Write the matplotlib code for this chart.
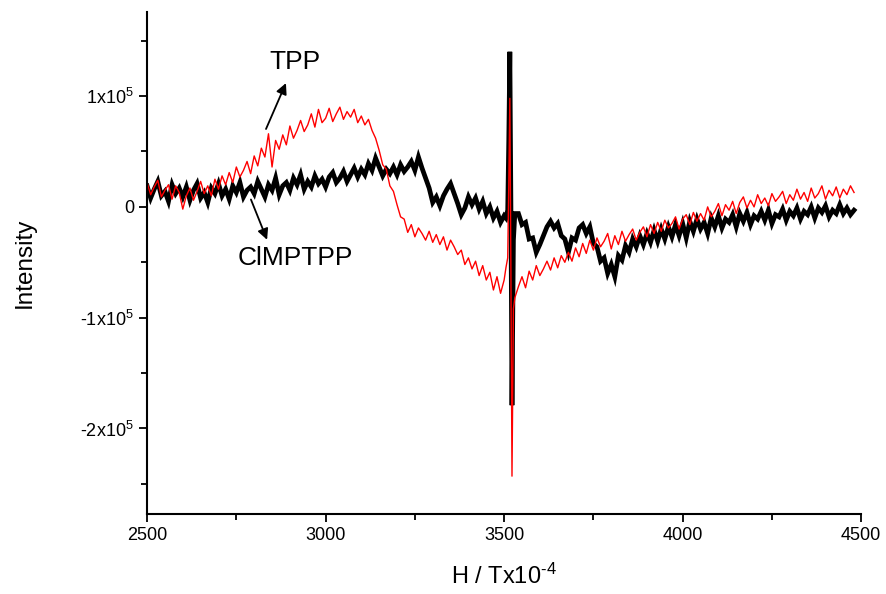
import numpy as np
import matplotlib
matplotlib.use("Agg")
import matplotlib.pyplot as plt
from matplotlib.ticker import MultipleLocator

plt.rcParams['font.family'] = ['Liberation Sans', 'DejaVu Sans']
plt.rcParams['mathtext.fontset'] = 'custom'
plt.rcParams['mathtext.rm'] = 'Liberation Sans'
plt.rcParams['mathtext.default'] = 'regular'

# magnetic field (G), sampled every 10 with extra points across the sharp line
field_a = np.arange(2500, 3501, 10)
field_spike = [3505, 3510, 3513, 3516, 3519, 3522, 3526, 3530]
field_b = np.arange(3540, 4481, 10)

# intensities, in units of 1e4
tpp_a = [2.2, 1.1, 1.8, 2.4, 0.9, 1.5, 2.0, 0.7, 1.9, 1.3,
         -0.2, 1.0, 1.7, 0.6, 1.4, 2.3, 1.2, 1.9, 1.0, 2.5,
         1.6, 2.8, 2.0, 3.1, 2.2, 3.6, 2.7, 3.3, 4.1, 3.0,
         4.6, 3.7, 5.3, 4.5, 6.6, 3.6, 6.0, 5.2, 6.5, 5.6,
         7.3, 6.2, 6.9, 7.8, 6.8, 7.4, 8.4, 7.2, 8.8, 7.6,
         8.0, 8.9, 7.7, 8.4, 9.0, 7.9, 8.6, 8.1, 8.8, 7.6,
         8.2, 7.4, 7.9, 6.9, 6.2, 5.1, 3.8, 3.4, 1.9, 1.4,
         0.2, -0.9, -1.1, -2.3, -1.6, -2.7, -1.9, -2.4, -3.0, -2.2,
         -3.2, -2.5, -3.4, -2.7, -3.9, -3.0, -3.6, -4.3, -3.9, -5.2,
         -4.6, -5.6, -4.9, -6.2, -5.3, -6.6, -5.9, -7.5, -6.3, -7.8,
         -6.6]
tpp_spike = [-5.5, -4.6, 2.0, 9.8, -6.0, -24.3, -9.2, -8.2]
tpp_b = [-7.2, -6.3, -7.3, -5.8, -6.6, -5.3, -6.2, -5.6, -4.9, -5.7,
         -4.6, -5.5, -4.4, -5.0, -4.1, -4.9, -3.7, -4.5, -3.3, -4.2,
         -3.0, -3.9, -2.8, -3.6, -3.1, -2.4, -3.8, -2.6, -3.4, -2.2,
         -3.1, -2.5, -2.0, -3.0, -2.3, -1.8, -2.7, -1.6, -2.4, -1.4,
         -2.2, -1.2, -1.9, -1.5, -0.9, -2.0, -1.1, -0.7, -1.6, -0.5,
         -1.3, -0.6, -1.2, 0.0, -0.9, -0.4, 0.3, -0.8, 0.2, -0.3,
         0.5, -0.6, 0.4, 0.9, -0.1, 0.6, 0.0, 1.1, 0.3, 0.8,
         0.1, 1.2, 0.5, 0.9, 1.4, 0.3, 1.1, 0.6, 1.6, 0.7,
         1.3, 0.5, 1.7, 0.8, 1.2, 1.9, 0.7, 1.5, 1.0, 1.8,
         0.8, 1.6, 1.1, 1.9, 1.3]

clmptpp_a = [1.9, 0.8, 1.6, 2.3, 1.0, 1.4, 0.5, 2.0, 1.2, 1.7,
             0.9, 1.8, 0.6, 1.5, 2.1, 0.8, 1.3, 0.4, 1.7, 1.2,
             2.1, 1.0, 1.6, 0.7, 1.9, 1.3, 2.2, 0.9, 1.5, 1.8,
             1.2, 2.3, 1.6, 0.9, 2.0, 1.5, 2.6, 1.1, 1.9, 2.2,
             1.5, 2.6, 2.0, 2.9, 1.6, 2.3, 1.8, 2.8, 2.1, 2.5,
             1.8, 2.7, 3.1, 2.2, 2.6, 3.2, 2.3, 2.9, 3.5, 2.7,
             3.4, 2.9, 3.9, 3.3, 4.4, 3.6, 2.8, 3.4, 3.0, 3.6,
             2.9, 3.8, 3.2, 3.6, 4.1, 3.3, 4.5, 3.5, 2.6, 1.7,
             0.4, 0.9, 0.1, 1.0, 1.6, 2.1, 1.2, 0.3, -0.7, -0.1,
             0.9, 0.2, 0.8, -0.2, 0.5, -0.6, 0.0, -1.0, -0.4, -1.4,
             -0.8]
clmptpp_spike = [-1.0, -0.3, 6.0, 14.0, 0.0, -17.9, -3.0, -0.6]
clmptpp_b = [-0.6, -1.6, -1.4, -2.9, -2.8, -4.1, -3.4, -2.6, -1.8, -1.3,
             -1.9, -1.5, -2.6, -2.9, -4.1, -2.8, -3.0, -1.9, -1.6, -2.4,
             -1.8, -3.3, -3.6, -4.9, -4.6, -6.0, -5.2, -6.3, -4.4, -4.8,
             -3.5, -4.1, -2.9, -3.6, -2.6, -3.4, -2.4, -3.2, -2.1, -3.1,
             -2.0, -2.9, -1.8, -2.7, -1.6, -2.6, -1.5, -2.8, -1.3, -2.2,
             -1.1, -2.0, -1.4, -2.4, -1.0, -1.8, -0.8, -1.9, -1.1, -1.4,
             -0.7, -1.8, -0.6, -1.3, -0.5, -1.6, -0.8, -1.1, -0.4, -1.2,
             -0.3, -1.5, -0.7, -0.9, -0.2, -1.2, -0.4, -0.8, -0.1, -1.1,
             -0.4, -0.7, 0.0, -1.0, -0.1, -0.5, 0.1, -0.9, -0.3, -0.6,
             0.2, -0.6, -0.1, -0.7, -0.3]

field = np.concatenate([field_a, field_spike, field_b])
tpp = np.concatenate([tpp_a, tpp_spike, tpp_b]) * 1e4
clmptpp = np.concatenate([clmptpp_a, clmptpp_spike, clmptpp_b]) * 1e4

fig = plt.figure(figsize=(8.86, 5.94), dpi=100)
ax = fig.add_axes([0.166, 0.135, 0.806, 0.845])

ax.plot(field, clmptpp, color='black', linewidth=3.4, solid_joinstyle='miter')
ax.plot(field, tpp, color='red', linewidth=1.0)

ax.set_xlim(2500, 4500)
ax.set_ylim(-2.77e5, 1.76e5)

ax.spines['top'].set_visible(False)
ax.spines['right'].set_visible(False)
ax.spines['left'].set_linewidth(1.5)
ax.spines['bottom'].set_linewidth(1.5)

ax.xaxis.set_major_locator(MultipleLocator(500))
ax.xaxis.set_minor_locator(MultipleLocator(250))
ax.yaxis.set_major_locator(MultipleLocator(1e5))
ax.yaxis.set_minor_locator(MultipleLocator(5e4))
ax.tick_params(which='major', direction='out', length=6, width=1.3, labelsize=13)
ax.tick_params(which='minor', direction='out', length=4, width=1.3)

def ylab(v, pos):
    if v == 0:
        return '0'
    n = int(round(v / 1e5))
    return '%dx10$^5$' % n

ax.yaxis.set_major_formatter(plt.FuncFormatter(ylab))

ax.set_xlabel(r'H / Tx10$^{\text{-}4}$', fontsize=17, labelpad=14)
ax.set_ylabel('Intensity', fontsize=17.5, labelpad=32)

ax.annotate('', xy=(2892, 1.14e5), xytext=(2830, 0.68e5),
            arrowprops=dict(arrowstyle='-|>', color='black', lw=1.3, mutation_scale=16))
ax.text(2915, 1.31e5, 'TPP', fontsize=19, ha='center', va='center')
ax.annotate('', xy=(2839, -0.32e5), xytext=(2788, 0.09e5),
            arrowprops=dict(arrowstyle='-|>', color='black', lw=1.3, mutation_scale=16))
ax.text(2915, -0.46e5, 'ClMPTPP', fontsize=19, ha='center', va='center')

fig.savefig('out.png', dpi=100)
